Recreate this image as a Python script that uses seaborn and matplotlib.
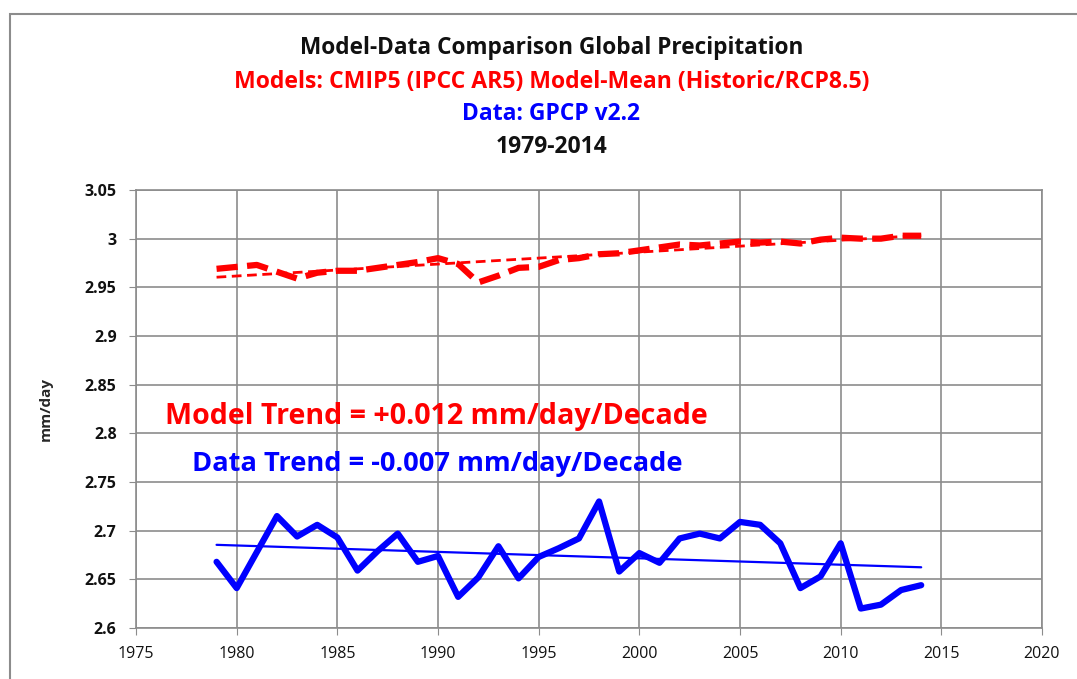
import numpy as np
import pandas as pd
import seaborn as sns
import matplotlib.pyplot as plt
from matplotlib.patches import Rectangle

years = list(range(1979, 2015))
model_mean = [2.969, 2.971, 2.973, 2.966, 2.959, 2.965, 2.967, 2.967, 2.970, 2.973,
              2.976, 2.980, 2.974, 2.955, 2.962, 2.970, 2.971, 2.978, 2.980, 2.984,
              2.985, 2.988, 2.991, 2.994, 2.993, 2.995, 2.997, 2.996, 2.997, 2.995,
              2.999, 3.001, 3.000, 3.000, 3.003, 3.003]
gpcp = [2.668, 2.641, 2.678, 2.715, 2.694, 2.706, 2.693, 2.659, 2.679, 2.697,
        2.668, 2.674, 2.632, 2.652, 2.684, 2.651, 2.673, 2.682, 2.692, 2.730,
        2.658, 2.677, 2.667, 2.692, 2.697, 2.692, 2.709, 2.706, 2.687, 2.641,
        2.653, 2.687, 2.620, 2.624, 2.639, 2.644]
x_ticks = list(range(1975, 2021, 5))
y_ticks = [2.6, 2.65, 2.7, 2.75, 2.8, 2.85, 2.9, 2.95, 3.0, 3.05]
y_tick_labels = ["2.6", "2.65", "2.7", "2.75", "2.8", "2.85", "2.9", "2.95", "3", "3.05"]

df = pd.DataFrame({"year": years, "model": model_mean, "data": gpcp})
yr = np.array(years, dtype=float)
df["model_trend"] = np.polyval(np.polyfit(yr, df["model"], 1), yr)
df["data_trend"] = np.polyval(np.polyfit(yr, df["data"], 1), yr)

sns.set_style("white")
plt.rcParams['font.family'] = ['Open Sans', 'DejaVu Sans']

fig = plt.figure(figsize=(10.77, 6.79), dpi=100)
ax = fig.add_axes([0.1263, 0.0751, 0.8412, 0.6451])

red = "#ff0000"
blue = "#0000ff"
sns.lineplot(x="year", y="model", data=df, ax=ax, color=red, lw=4.5,
             linestyle=(0, (3.4, 1.5)))
sns.lineplot(x="year", y="model_trend", data=df, ax=ax, color=red, lw=2.0,
             linestyle=(0, (3.5, 2.0)))
sns.lineplot(x="year", y="data", data=df, ax=ax, color=blue, lw=4.5)
sns.lineplot(x="year", y="data_trend", data=df, ax=ax, color=blue, lw=1.6)

ax.set_xlim(1975, 2020)
ax.set_ylim(2.6, 3.05)
ax.set_xticks(x_ticks)
ax.set_yticks(y_ticks)
ax.set_yticklabels(y_tick_labels)
ax.grid(True, color="#8c8c8c", lw=1.2)
ax.set_axisbelow(True)
for s in ax.spines.values():
    s.set_color("#8c8c8c")
    s.set_linewidth(1.2)
ax.tick_params(axis="both", length=5, color="#8c8c8c", labelsize=11.5,
               labelcolor="#111111", direction="out", bottom=True, left=True)
ax.tick_params(axis="y", pad=9)
ax.tick_params(axis="x", pad=8)
for lab in ax.get_yticklabels():
    lab.set_fontweight("bold")
ax.set_xlabel("")
ax.set_ylabel("mm/day", fontsize=11, fontweight="bold", labelpad=23)

fig.text(0.512, 0.930, "Model-Data Comparison Global Precipitation", ha="center",
         va="center", fontsize=16.3, fontweight="bold", color="#111111")
fig.text(0.512, 0.879, "Models: CMIP5 (IPCC AR5) Model-Mean (Historic/RCP8.5)",
         ha="center", va="center", fontsize=16.6, fontweight="bold", color=red)
fig.text(0.512, 0.832, "Data: GPCP v2.2", ha="center", va="center",
         fontsize=16.5, fontweight="bold", color=blue)
fig.text(0.512, 0.783, "1979-2014", ha="center", va="center",
         fontsize=16.5, fontweight="bold", color="#111111")

ax.text(1976.45, 2.817, "Model Trend = +0.012 mm/day/Decade", ha="left",
        va="center", fontsize=20.6, fontweight="bold", color=red)
ax.text(1977.8, 2.769, "Data Trend = -0.007 mm/day/Decade", ha="left",
        va="center", fontsize=19.6, fontweight="bold", color=blue)

fig.patches.append(Rectangle((0.0093, -0.1), 1.2, 1.1 - 14 / 679,
                             transform=fig.transFigure, fill=False,
                             edgecolor="#8c8c8c", lw=1.5))

fig.savefig("out.png", dpi=100)
